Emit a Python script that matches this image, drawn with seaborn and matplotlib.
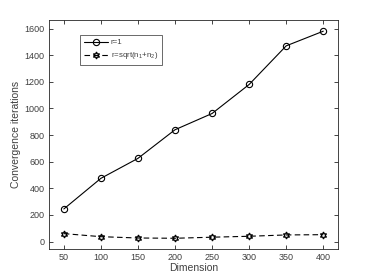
import matplotlib
matplotlib.use("Agg")
import matplotlib.pyplot as plt
import seaborn as sns
import pandas as pd

dimension = [50, 100, 150, 200, 250, 300, 350, 400]
r_one = [245, 475, 625, 840, 962, 1180, 1470, 1580]
r_sqrt = [60, 37, 27, 25, 33, 40, 50, 52]
labels = ["r=1", r"r=sqrt(n$_1$+n$_2$)"]

sns.set_theme(style="ticks")
plt.rcParams['font.family'] = ['Liberation Sans', 'DejaVu Sans']
plt.rcParams['mathtext.fontset'] = 'custom'
plt.rcParams['mathtext.rm'] = 'Liberation Sans'
plt.rcParams['mathtext.it'] = 'Liberation Sans'

df = pd.DataFrame({"Dimension": dimension * 2,
                   "Iterations": r_one + r_sqrt,
                   "series": [labels[0]] * 8 + [labels[1]] * 8})

fig = plt.figure(figsize=(3.74, 2.8), dpi=100)
ax = fig.add_axes([0.131, 0.111, 0.773, 0.818])

axc = "#262626"
txc = "#404040"
sns.lineplot(data=df[df.series == labels[0]], x="Dimension", y="Iterations",
             ax=ax, color="black", lw=0.8, marker="o", markersize=4.5,
             markerfacecolor="none", markeredgecolor="black", markeredgewidth=0.8,
             label=labels[0])
sns.lineplot(data=df[df.series == labels[1]], x="Dimension", y="Iterations",
             ax=ax, color="black", lw=0.8, linestyle=(0, (5, 3)),
             marker=(6, 1, 0), markersize=5,
             markerfacecolor="none", markeredgecolor="black", markeredgewidth=0.9,
             label=labels[1])

ax.set_xlim(30, 420)
ax.set_ylim(-55, 1665)
ax.set_xticks(dimension)
ax.set_yticks(range(0, 1601, 200))
ax.set_xlabel("Dimension", fontsize=7.5, color=txc, labelpad=1)
ax.set_ylabel("Convergence iterations", fontsize=7.5, color=txc, labelpad=3)
ax.tick_params(direction="in", length=3, width=0.6, labelsize=6.5, color=axc,
               labelcolor=txc, top=True, right=True, pad=3)
for s in ax.spines.values():
    s.set_visible(True)
    s.set_linewidth(0.6)
    s.set_color(axc)

leg = ax.legend(loc="upper left", bbox_to_anchor=(0.095, 0.95), fontsize=5.7,
                frameon=True, fancybox=False, edgecolor=axc, handlelength=3,
                borderpad=0.45, labelspacing=0.5, handletextpad=0.4)
leg.get_frame().set_linewidth(0.6)
for t in leg.get_texts():
    t.set_color(txc)

fig.savefig("out.png", dpi=100)
